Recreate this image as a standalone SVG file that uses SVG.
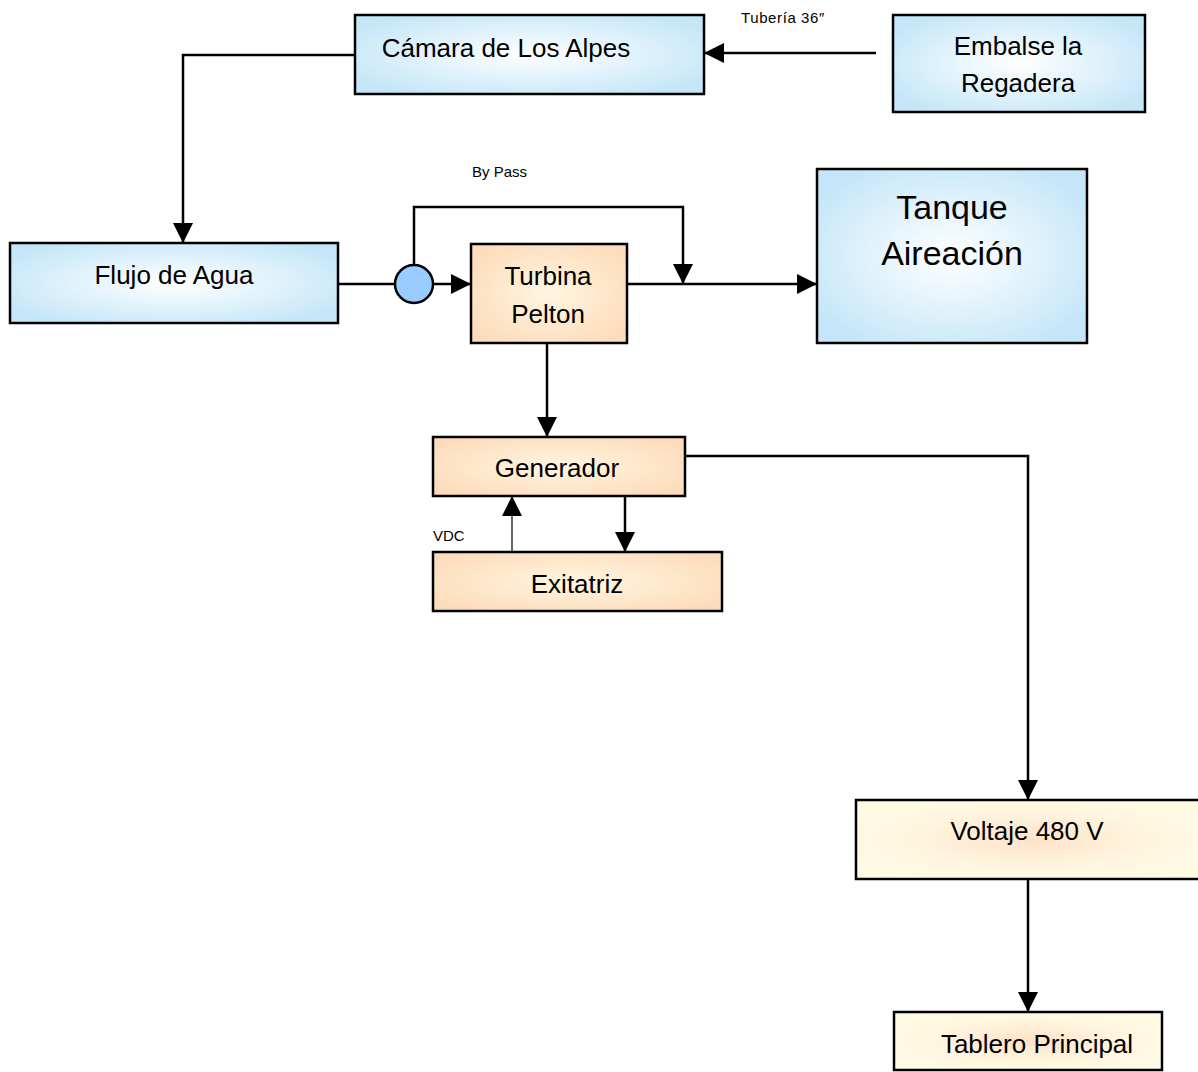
<svg xmlns="http://www.w3.org/2000/svg" width="1198" height="1072" viewBox="0 0 1198 1072">
  <defs>
    <radialGradient id="gBlue" cx="50%" cy="50%" r="60%">
      <stop offset="0" stop-color="#ffffff"/>
      <stop offset="1" stop-color="#c4e6f8"/>
    </radialGradient>
    <radialGradient id="gPeach" cx="50%" cy="50%" r="60%">
      <stop offset="0" stop-color="#fff6e0"/>
      <stop offset="1" stop-color="#fddcbc"/>
    </radialGradient>
    <radialGradient id="gCream" cx="50%" cy="50%" r="60%">
      <stop offset="0" stop-color="#fde2c8"/>
      <stop offset="0.6" stop-color="#fff6e0"/>
      <stop offset="1" stop-color="#fffae4"/>
    </radialGradient>
    <marker id="arrow" viewBox="0 0 20 20" refX="20" refY="10" markerWidth="20" markerHeight="20" markerUnits="userSpaceOnUse" orient="auto">
      <path d="M0,0 L20,10 L0,20 Z" fill="#000"/>
    </marker>
  </defs>
  <style>
    .box { stroke: #000; stroke-width: 2.5; }
    .blue { fill: url(#gBlue); }
    .peach { fill: url(#gPeach); }
    .cream { fill: url(#gCream); }
    .lbl { font-family: "Liberation Sans", Arial, sans-serif; font-size: 26px; fill: #000; text-anchor: middle; }
    .big { font-size: 34px; }
    .small { font-family: "Liberation Sans", Arial, sans-serif; font-size: 15px; fill: #000; }
    .wire { fill: none; stroke: #000; stroke-width: 2.5; }
    .thin { fill: none; stroke: #000; stroke-width: 1.2; }
  </style>
  <rect width="1198" height="1072" fill="#fff"/>

  <!-- connectors -->
  <g id="connectors">
    <path class="wire" d="M876,53 L704,53" marker-end="url(#arrow)"/>
    <path class="wire" d="M355,55 L183,55 L183,243" marker-end="url(#arrow)"/>
    <path class="wire" d="M338,284 L395,284"/>
    <path class="wire" d="M433,284 L471,284" marker-end="url(#arrow)"/>
    <path class="wire" d="M414,265 L414,207 L683,207 L683,284" marker-end="url(#arrow)"/>
    <path class="wire" d="M627,284 L817,284" marker-end="url(#arrow)"/>
    <path class="wire" d="M547,343 L547,437" marker-end="url(#arrow)"/>
    <path class="wire" d="M625,496 L625,552" marker-end="url(#arrow)"/>
    <path class="thin" d="M512,552 L512,496" marker-end="url(#arrow)"/>
    <path class="wire" d="M685,456 L1028,456 L1028,800" marker-end="url(#arrow)"/>
    <path class="wire" d="M1028,879 L1028,1012" marker-end="url(#arrow)"/>
  </g>

  <!-- edge labels -->
  <text class="small" x="741" y="23" letter-spacing="0.6">Tubería 36″</text>
  <text class="small" x="472" y="177">By Pass</text>
  <text class="small" x="433" y="541">VDC</text>

  <!-- nodes -->
  <g id="camara">
    <rect class="box blue" x="355" y="15" width="349" height="79"/>
    <text class="lbl" x="506" y="57">Cámara de Los Alpes</text>
  </g>
  <g id="embalse">
    <rect class="box blue" x="893" y="15" width="252" height="97"/>
    <text class="lbl" x="1018" y="55">Embalse la</text>
    <text class="lbl" x="1018" y="92">Regadera</text>
  </g>
  <g id="flujo">
    <rect class="box blue" x="10" y="243" width="328" height="80"/>
    <text class="lbl" x="174" y="284">Flujo de Agua</text>
  </g>
  <g id="valvula">
    <ellipse cx="414" cy="284" rx="19" ry="19" fill="#99ccff" stroke="#000" stroke-width="2.5"/>
  </g>
  <g id="turbina">
    <rect class="box peach" x="471" y="244" width="156" height="99"/>
    <text class="lbl" x="548" y="285">Turbina</text>
    <text class="lbl" x="548" y="323">Pelton</text>
  </g>
  <g id="tanque">
    <rect class="box blue" x="817" y="169" width="270" height="174"/>
    <text class="lbl big" x="952" y="219">Tanque</text>
    <text class="lbl big" x="952" y="265">Aireación</text>
  </g>
  <g id="generador">
    <rect class="box peach" x="433" y="437" width="252" height="59"/>
    <text class="lbl" x="557" y="477">Generador</text>
  </g>
  <g id="exitatriz">
    <rect class="box peach" x="433" y="552" width="289" height="59"/>
    <text class="lbl" x="577" y="593">Exitatriz</text>
  </g>
  <g id="voltaje">
    <rect class="box cream" x="856" y="800" width="350" height="79"/>
    <text class="lbl" x="1027" y="840">Voltaje 480 V</text>
  </g>
  <g id="tablero">
    <rect class="box cream" x="894" y="1012" width="268" height="58"/>
    <text class="lbl" x="1037" y="1053">Tablero Principal</text>
  </g>
</svg>
